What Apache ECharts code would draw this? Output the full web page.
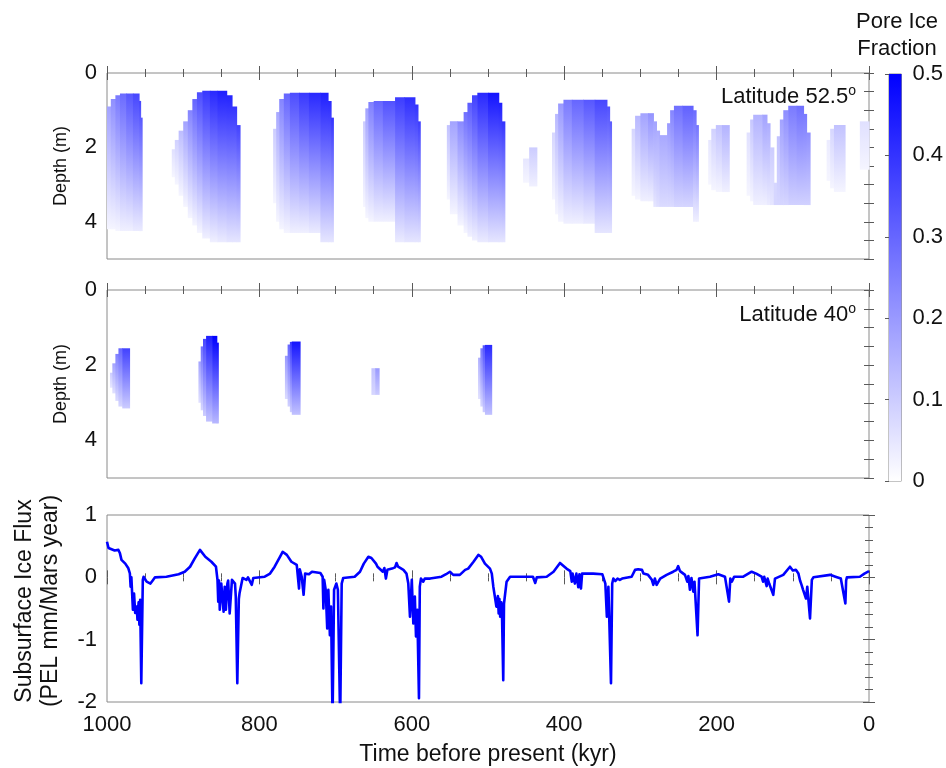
<!DOCTYPE html>
<html>
<head>
<meta charset="utf-8">
<title>Pore ice and subsurface ice flux</title>
<script src="https://cdn.jsdelivr.net/npm/echarts@6/dist/echarts.min.js"></script>
<style>
  html, body { margin: 0; padding: 0; background: #fff; }
  #chart { width: 946px; height: 768px; }
</style>
</head>
<body>
<div id="chart"></div>
<script>
// Pore ice strips:
// [time start (kyr), time end (kyr), top depth (m), bottom depth (m), fraction at top, fraction at bottom]
const lat52Strips = [
  [1000, 995, 0.90, 4.20, 0.18, 0.02],
  [995, 989, 0.70, 4.20, 0.22, 0.02],
  [989, 983, 0.60, 4.25, 0.26, 0.02],
  [983, 975, 0.55, 4.25, 0.29, 0.03],
  [975, 966, 0.55, 4.25, 0.33, 0.03],
  [966, 958, 0.55, 4.25, 0.36, 0.04],
  [958, 956, 0.75, 4.25, 0.36, 0.04],
  [956, 954, 1.20, 4.25, 0.33, 0.04],

  [915, 911, 2.05, 2.80, 0.06, 0.02],
  [911, 906, 1.80, 3.00, 0.09, 0.02],
  [906, 900, 1.55, 3.30, 0.13, 0.02],
  [900, 894, 1.30, 3.60, 0.18, 0.02],
  [894, 888, 1.00, 3.90, 0.24, 0.02],
  [888, 882, 0.70, 4.10, 0.30, 0.02],
  [882, 875, 0.52, 4.30, 0.35, 0.02],
  [875, 865, 0.48, 4.45, 0.39, 0.03],
  [865, 855, 0.48, 4.55, 0.42, 0.03],
  [855, 843, 0.48, 4.55, 0.44, 0.04],
  [843, 836, 0.60, 4.55, 0.43, 0.05],
  [836, 830, 0.90, 4.55, 0.40, 0.05],
  [830, 825.5, 1.40, 4.55, 0.37, 0.05],

  [782, 778, 1.50, 3.50, 0.10, 0.02],
  [778, 774, 1.05, 4.00, 0.17, 0.02],
  [774, 768, 0.70, 4.20, 0.24, 0.02],
  [768, 760, 0.55, 4.30, 0.30, 0.02],
  [760, 748, 0.53, 4.30, 0.35, 0.03],
  [748, 735, 0.53, 4.30, 0.39, 0.03],
  [735, 720, 0.53, 4.30, 0.42, 0.04],
  [720, 710, 0.53, 4.55, 0.44, 0.05],
  [710, 706, 0.75, 4.55, 0.42, 0.05],
  [706, 703, 1.20, 4.55, 0.40, 0.05],

  [664, 661, 1.30, 3.60, 0.10, 0.02],
  [661, 657, 0.95, 3.90, 0.18, 0.02],
  [657, 650, 0.78, 4.00, 0.25, 0.02],
  [650, 638, 0.75, 4.00, 0.30, 0.03],
  [638, 622, 0.75, 4.00, 0.34, 0.03],
  [622, 610, 0.65, 4.55, 0.38, 0.04],
  [610, 596, 0.65, 4.55, 0.41, 0.05],
  [596, 592, 0.85, 4.55, 0.40, 0.05],
  [592, 589, 1.30, 4.55, 0.38, 0.05],

  [554, 550, 1.40, 3.40, 0.12, 0.02],
  [550, 540, 1.30, 3.80, 0.18, 0.02],
  [540, 532, 1.30, 4.10, 0.23, 0.02],
  [532, 527, 1.05, 4.30, 0.28, 0.02],
  [527, 521, 0.80, 4.40, 0.32, 0.03],
  [521, 514, 0.60, 4.50, 0.37, 0.03],
  [514, 500, 0.53, 4.55, 0.42, 0.04],
  [500, 486, 0.53, 4.55, 0.46, 0.05],
  [486, 482, 0.80, 4.55, 0.44, 0.05],
  [482, 478, 1.30, 4.55, 0.40, 0.05],

  [454, 446, 2.30, 2.95, 0.05, 0.02],
  [446, 436, 2.00, 3.05, 0.10, 0.03],

  [416, 412, 1.60, 3.40, 0.08, 0.02],
  [412, 408, 1.10, 3.80, 0.14, 0.02],
  [408, 401, 0.82, 4.00, 0.20, 0.02],
  [401, 390, 0.72, 4.05, 0.26, 0.03],
  [390, 375, 0.72, 4.05, 0.30, 0.03],
  [375, 360, 0.72, 4.05, 0.33, 0.04],
  [360, 344, 0.72, 4.30, 0.36, 0.05],
  [344, 340.5, 0.90, 4.30, 0.34, 0.05],
  [340.5, 338, 1.30, 4.30, 0.32, 0.05],

  [311.5, 307, 1.50, 3.30, 0.08, 0.02],
  [307, 300, 1.15, 3.40, 0.14, 0.02],
  [300, 290, 1.08, 3.45, 0.18, 0.03],
  [290, 283, 1.08, 3.45, 0.21, 0.03],
  [283, 279, 1.30, 3.60, 0.18, 0.05],
  [279, 275, 1.55, 3.60, 0.16, 0.06],
  [275, 265, 1.67, 3.60, 0.17, 0.07],
  [265, 261, 1.35, 3.60, 0.20, 0.07],
  [261, 256, 1.00, 3.60, 0.24, 0.07],
  [256, 245, 0.88, 3.60, 0.28, 0.08],
  [245, 231, 0.88, 3.60, 0.31, 0.08],
  [231, 227, 1.00, 4.00, 0.29, 0.03],
  [227, 224, 1.40, 4.00, 0.27, 0.03],

  [211, 207, 1.80, 3.00, 0.05, 0.02],
  [207, 201, 1.50, 3.15, 0.09, 0.02],
  [201, 193, 1.40, 3.20, 0.12, 0.02],
  [193, 183.5, 1.40, 3.20, 0.15, 0.03],

  [160.6, 156, 1.60, 3.30, 0.06, 0.02],
  [156, 152, 1.25, 3.45, 0.11, 0.02],
  [152, 140, 1.12, 3.55, 0.15, 0.03],
  [140, 134, 1.12, 3.55, 0.18, 0.03],
  [134, 130, 1.35, 3.55, 0.16, 0.04],
  [130, 125, 2.00, 3.55, 0.10, 0.05],
  [125, 121, 2.95, 3.55, 0.08, 0.08],
  [121, 117, 1.70, 3.55, 0.12, 0.08],
  [117, 112.5, 1.25, 3.55, 0.18, 0.08],
  [112.5, 106, 1.00, 3.55, 0.22, 0.08],
  [106, 95, 0.88, 3.55, 0.26, 0.09],
  [95, 86, 0.88, 3.55, 0.28, 0.09],
  [86, 82, 1.10, 3.55, 0.26, 0.09],
  [82, 77.4, 1.60, 3.55, 0.22, 0.09],

  [55.6, 51, 1.80, 2.90, 0.04, 0.02],
  [51, 46, 1.50, 3.10, 0.08, 0.02],
  [46, 31.5, 1.40, 3.20, 0.12, 0.02],

  [12, 0, 1.30, 2.60, 0.06, 0.02]
];

const lat40Strips = [
  [996, 993, 2.20, 2.60, 0.10, 0.05],
  [993, 989, 1.95, 2.75, 0.18, 0.06],
  [989, 985, 1.70, 2.95, 0.25, 0.07],
  [985, 980, 1.55, 3.10, 0.30, 0.08],
  [980, 970.5, 1.55, 3.15, 0.37, 0.10],

  [880, 877, 1.90, 3.00, 0.18, 0.06],
  [877, 874, 1.50, 3.20, 0.28, 0.08],
  [874, 870, 1.30, 3.35, 0.36, 0.10],
  [870, 862, 1.22, 3.50, 0.44, 0.12],
  [862, 856, 1.22, 3.55, 0.50, 0.14],
  [856, 854, 1.40, 3.55, 0.48, 0.14],

  [766.5, 763, 1.75, 2.90, 0.20, 0.07],
  [763, 760, 1.45, 3.10, 0.30, 0.09],
  [760, 757.5, 1.38, 3.25, 0.38, 0.10],
  [757.5, 746.7, 1.37, 3.32, 0.46, 0.12],

  [653, 648, 2.08, 2.79, 0.12, 0.08],
  [648, 643, 2.08, 2.79, 0.20, 0.10],

  [513, 510, 1.80, 2.90, 0.16, 0.06],
  [510, 507, 1.55, 3.10, 0.26, 0.08],
  [507, 504, 1.47, 3.25, 0.34, 0.10],
  [504, 495.3, 1.46, 3.32, 0.42, 0.12]
];

// Subsurface ice flux (PEL mm/Mars year)
const fluxTime = [
  1000, 998, 990, 985, 983, 981, 976, 972, 970, 969, 968, 966, 964.5, 963, 961, 960, 958.5, 957.5, 956.5, 955,
  953, 952, 948, 943, 940, 937, 922, 906, 898, 891, 885, 878, 876, 871, 863, 857, 855, 854, 853, 852,
  850, 847, 845.5, 844, 842, 841, 839, 836, 834, 832, 831, 829, 827, 826, 822, 817, 815, 810, 808, 793,
  786, 780, 773, 769.5, 764, 758, 751, 749, 748, 747, 744.5, 742, 740, 735, 731, 720, 717, 716, 715, 713,
  711, 709.5, 707.5, 706, 704, 702, 699, 697, 694, 692, 690, 675, 668, 663, 657, 653, 647, 645, 643, 638,
  636, 634, 632, 626, 622, 620, 618, 611, 607, 604.6, 602.4, 600, 598, 596, 594.5, 592.8, 590.6, 589.5, 588, 585,
  583, 581, 576, 561, 555, 550, 545.6, 537, 530, 526, 519, 512.7, 509, 504, 497.4, 495, 493, 491, 489, 487,
  486, 485, 484, 482.5, 481.5, 480, 479, 475.6, 471, 441, 438, 436, 423, 414, 405.5, 403, 397, 392, 390, 389,
  386, 384, 381.5, 380, 378, 376.5, 362, 350, 346, 344, 342, 338.6, 337, 335.5, 333, 330, 327, 324, 311.5, 307,
  303, 298, 296, 290, 285, 283, 281, 278.7, 274, 265.6, 257, 252.5, 250.4, 248, 241.5, 238.5, 237, 235, 233, 230.6,
  229, 225, 223, 221, 208.7, 197.8, 189, 187, 183.7, 182, 180, 177, 165, 154, 148, 141, 139, 137.5, 134.3, 133,
  131, 125.6, 123.4, 112.5, 103.7, 100, 96, 92.6, 90.5, 88.5, 86.5, 82.7, 81, 77.4, 75, 73, 51, 44, 37, 35,
  31, 30, 29, 12, 6, 0
];
const fluxValue = [
  0.57, 0.47, 0.43, 0.44, 0.385, 0.28, 0.22, 0.145, 0.065, -0.15, 0.0, -0.52, -0.26, -0.57, -0.47, -0.68, -0.4, -0.76, -0.36, -1.70,
  -0.04, 0.01, -0.07, -0.10, -0.05, 0.0, 0.01, 0.05, 0.09, 0.17, 0.30, 0.44, 0.42, 0.33, 0.25, 0.17, -0.04, -0.39, -0.05, -0.52,
  -0.1, -0.55, -0.15, -0.52, -0.1, -0.05, -0.58, -0.04, -0.07, -0.1, -0.31, -1.70, -0.35, -0.25, -0.01, -0.04, 0.0, -0.12, -0.01, 0.01,
  0.06, 0.17, 0.33, 0.41, 0.36, 0.25, 0.20, 0.17, -0.18, 0.13, 0.01, -0.28, 0.06, 0.05, 0.09, 0.07, 0.01, -0.50, -0.04, -0.2,
  -0.82, -0.2, -0.93, -0.47, -2.3, -0.20, -0.10, -0.2, -2.3, -0.1, -0.01, 0.01, 0.09, 0.22, 0.33, 0.31, 0.22, 0.17, 0.19, 0.09,
  0.15, -0.02, 0.12, 0.14, 0.16, 0.23, 0.17, 0.12, 0.06, -0.10, -0.63, -0.04, -0.74, -0.31, -0.95, -0.52, -1.94, -0.15, -0.02, -0.07,
  -0.02, -0.05, -0.02, 0.01, 0.05, 0.09, 0.04, 0.04, 0.12, 0.14, 0.25, 0.36, 0.33, 0.22, 0.14, 0.06, -0.15, -0.31, -0.47, -0.3,
  -0.58, -0.35, -0.63, -0.4, -0.68, -1.65, -0.42, -0.07, 0.01, 0.01, -0.09, 0.0, 0.01, 0.09, 0.23, 0.2, 0.14, 0.1, -0.07, 0.06,
  -0.10, 0.06, -0.16, 0.05, -0.18, 0.06, 0.06, 0.05, -0.10, -0.63, -0.15, -1.70, -0.1, -0.02, -0.06, -0.02, -0.04, -0.02, 0.01, 0.12,
  0.13, 0.12, 0.06, 0.04, -0.04, -0.12, -0.02, -0.12, -0.02, 0.04, 0.09, 0.12, 0.18, 0.1, 0.04, -0.07, 0.02, -0.20, -0.01, -0.23,
  -0.07, -0.93, -0.02, 0.0, 0.01, 0.05, 0.01, -0.02, -0.39, -0.02, -0.07, 0.01, 0.01, 0.09, 0.06, 0.01, -0.07, 0.01, -0.14, -0.02,
  -0.10, -0.28, -0.02, 0.04, 0.17, 0.11, 0.12, 0.06, -0.05, -0.12, -0.2, -0.34, -0.15, -0.66, -0.04, 0.0, 0.04, 0.01, -0.02, -0.05,
  -0.42, -0.05, 0.0, 0.01, 0.06, 0.1
];

const timeLabels = [0, 200, 400, 600, 800, 1000];
const depthLabels = [0, 2, 4];
const fluxLabels = [-2, -1, 0, 1];
const fractionLabels = [0, 0.1, 0.2, 0.3, 0.4, 0.5];

const FONT = "'Liberation Sans', Arial, Helvetica, sans-serif";
const FRAME = '#8a8a8a';
const TICK = '#5a5a5a';
const ICE_MAX = 0.5;

function iceColor(f) {
  const t = Math.min(Math.max(f / ICE_MAX, 0), 1);
  return echarts.color.lerp(t, ['#ffffff', '#0000ff']);
}

function renderStrip(params, api) {
  const p0 = api.coord([api.value(0), api.value(2)]);
  const p1 = api.coord([api.value(1), api.value(3)]);
  const x = Math.min(p0[0], p1[0]);
  const y = Math.min(p0[1], p1[1]);
  return {
    type: 'rect',
    shape: { x: x, y: y, width: Math.abs(p1[0] - p0[0]) + 0.6, height: Math.abs(p1[1] - p0[1]) },
    style: {
      fill: new echarts.graphic.LinearGradient(0, 0, 0, 1, [
        { offset: 0, color: iceColor(api.value(4)) },
        { offset: 1, color: iceColor(api.value(5)) }
      ])
    }
  };
}

function renderColorbar(params, api) {
  const top = api.coord([0, api.value(1)]);
  const bottom = api.coord([1, api.value(0)]);
  return {
    type: 'rect',
    shape: { x: top[0], y: top[1], width: bottom[0] - top[0], height: bottom[1] - top[1] },
    style: {
      fill: new echarts.graphic.LinearGradient(0, 0, 0, 1, [
        { offset: 0, color: iceColor(api.value(1)) },
        { offset: 1, color: iceColor(api.value(0)) }
      ])
    }
  };
}

function timeAxis(gridIndex, position, showLabels) {
  return {
    type: 'value', gridIndex: gridIndex, position: position,
    min: 0, max: 1000, interval: 200, inverse: true,
    axisLine: { show: false },
    axisTick: { show: true, inside: true, length: 7, lineStyle: { color: TICK } },
    minorTick: { show: true, splitNumber: 4, length: 4, lineStyle: { color: TICK } },
    splitLine: { show: false },
    axisLabel: {
      show: showLabels, margin: 12, color: '#111', fontSize: 22, fontFamily: FONT,
      formatter: v => (timeLabels.indexOf(v) >= 0 ? String(v) : '')
    }
  };
}

function depthAxis(gridIndex, position, showLabels) {
  return {
    type: 'value', gridIndex: gridIndex, position: position,
    min: 0, max: 5, interval: 0.5, inverse: true,
    axisLine: { show: false },
    axisTick: { show: true, inside: true, length: 5, lineStyle: { color: TICK } },
    splitLine: { show: false },
    axisLabel: {
      show: showLabels, margin: 10, color: '#111', fontSize: 22, fontFamily: FONT,
      formatter: v => (depthLabels.indexOf(v) >= 0 ? String(v) : '')
    }
  };
}

function fluxAxis(position, showLabels) {
  return {
    type: 'value', gridIndex: 2, position: position,
    min: -2, max: 1, interval: 1,
    axisLine: { show: false },
    axisTick: { show: true, inside: true, length: 6, lineStyle: { color: TICK } },
    minorTick: { show: true, splitNumber: 5, length: 4, lineStyle: { color: TICK } },
    splitLine: { show: false },
    axisLabel: {
      show: showLabels, margin: 10, color: '#111', fontSize: 22, fontFamily: FONT,
      formatter: v => (fluxLabels.indexOf(v) >= 0 ? String(v) : '')
    }
  };
}

const frame = { show: true, borderColor: FRAME, borderWidth: 1, backgroundColor: '#fff' };

const option = {
  animation: false,
  backgroundColor: '#fff',
  grid: [
    Object.assign({ left: 107, top: 73, width: 762, height: 186 }, frame),
    Object.assign({ left: 107, top: 290, width: 762, height: 188 }, frame),
    Object.assign({ left: 107, top: 515, width: 762, height: 187 }, frame),
    Object.assign({ left: 889, top: 74, width: 15, height: 407 }, frame)
  ],
  xAxis: [
    timeAxis(0, 'bottom', false),
    timeAxis(0, 'top', false),
    timeAxis(1, 'bottom', false),
    timeAxis(1, 'top', false),
    timeAxis(2, 'bottom', true),
    timeAxis(2, 'top', false),
    { type: 'value', gridIndex: 3, min: 0, max: 1, show: false }
  ],
  yAxis: [
    depthAxis(0, 'left', true),
    depthAxis(0, 'right', false),
    depthAxis(1, 'left', true),
    depthAxis(1, 'right', false),
    fluxAxis('left', true),
    fluxAxis('right', false),
    {
      type: 'value', gridIndex: 3, position: 'right',
      min: 0, max: 0.5, interval: 0.1,
      axisLine: { show: false },
      axisTick: { show: true, inside: true, length: 4, lineStyle: { color: TICK } },
      splitLine: { show: false },
      axisLabel: {
        margin: 11, color: '#111', fontSize: 22, fontFamily: FONT,
        formatter: v => {
          const hit = fractionLabels.find(l => Math.abs(l - v) < 1e-9);
          return hit === undefined ? '' : String(hit);
        }
      }
    }
  ],
  series: [
    {
      type: 'custom', name: 'Latitude 52.5', xAxisIndex: 0, yAxisIndex: 0,
      renderItem: renderStrip, encode: { x: [0, 1], y: [2, 3] }, data: lat52Strips
    },
    {
      type: 'custom', name: 'Latitude 40', xAxisIndex: 2, yAxisIndex: 2,
      renderItem: renderStrip, encode: { x: [0, 1], y: [2, 3] }, data: lat40Strips
    },
    {
      type: 'line', name: 'Subsurface ice flux', xAxisIndex: 4, yAxisIndex: 4,
      data: fluxTime.map((t, i) => [t, fluxValue[i]]),
      showSymbol: false, symbol: 'none', clip: true,
      lineStyle: { color: '#0000ff', width: 2.6, join: 'round' }
    },
    {
      type: 'custom', name: 'colorbar', xAxisIndex: 6, yAxisIndex: 6,
      renderItem: renderColorbar, data: [[0, ICE_MAX]], silent: true
    }
  ],
  graphic: [
    {
      type: 'text', right: 946 - 856, top: 84,
      style: {
        text: 'Latitude 52.5{sup|o}', fill: '#111', font: '22px ' + FONT,
        rich: { sup: { fontSize: 14, fontFamily: FONT, fill: '#111', verticalAlign: 'top', lineHeight: 26 } }
      }
    },
    {
      type: 'text', right: 946 - 856, top: 302,
      style: {
        text: 'Latitude 40{sup|o}', fill: '#111', font: '22px ' + FONT,
        rich: { sup: { fontSize: 14, fontFamily: FONT, fill: '#111', verticalAlign: 'top', lineHeight: 26 } }
      }
    },
    {
      type: 'text', x: 61, y: 166, rotation: Math.PI / 2,
      style: { text: 'Depth (m)', fill: '#111', font: '18px ' + FONT, align: 'center', verticalAlign: 'middle' }
    },
    {
      type: 'text', x: 61, y: 384, rotation: Math.PI / 2,
      style: { text: 'Depth (m)', fill: '#111', font: '18px ' + FONT, align: 'center', verticalAlign: 'middle' }
    },
    {
      type: 'text', x: 25, y: 601, rotation: Math.PI / 2,
      style: { text: 'Subsurface Ice Flux', fill: '#111', font: '23px ' + FONT, align: 'center', verticalAlign: 'middle' }
    },
    {
      type: 'text', x: 51, y: 601, rotation: Math.PI / 2,
      style: { text: '(PEL mm/Mars year)', fill: '#111', font: '23px ' + FONT, align: 'center', verticalAlign: 'middle' }
    },
    {
      type: 'text', x: 488, y: 755,
      style: { text: 'Time before present (kyr)', fill: '#111', font: '23px ' + FONT, align: 'center', verticalAlign: 'middle' }
    },
    {
      type: 'text', x: 897, y: 22,
      style: { text: 'Pore Ice', fill: '#111', font: '22px ' + FONT, align: 'center', verticalAlign: 'middle' }
    },
    {
      type: 'text', x: 897, y: 49,
      style: { text: 'Fraction', fill: '#111', font: '22px ' + FONT, align: 'center', verticalAlign: 'middle' }
    }
  ]
};

const chart = echarts.init(document.getElementById('chart'), null, { renderer: 'canvas' });
chart.setOption(option);
</script>
</body>
</html>
